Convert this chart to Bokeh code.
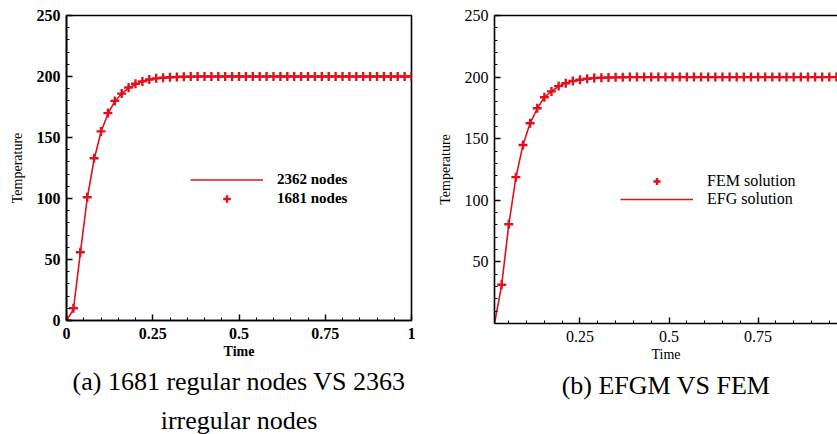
from bokeh.plotting import figure
from bokeh.models import (Legend, LegendItem, FixedTicker, Range1d, Title,
                          LinearAxis)
from bokeh.layouts import row
from bokeh.embed import file_html
from bokeh.resources import INLINE

# ---------------- data ----------------
time_a = [0.00, 0.02, 0.04, 0.06, 0.08, 0.10, 0.12, 0.14, 0.16, 0.18,
          0.20, 0.22, 0.24, 0.26, 0.28, 0.30, 0.32, 0.34, 0.36, 0.38,
          0.40, 0.42, 0.44, 0.46, 0.48, 0.50, 0.52, 0.54, 0.56, 0.58,
          0.60, 0.62, 0.64, 0.66, 0.68, 0.70, 0.72, 0.74, 0.76, 0.78,
          0.80, 0.82, 0.84, 0.86, 0.88, 0.90, 0.92, 0.94, 0.96, 0.98, 1.00]
temp_2362 = [0, 9, 55, 100, 132, 154.5, 169.5, 179.5, 186, 190.5,
             193.5, 195.8, 197.3, 198.3, 198.9, 199.3, 199.6, 199.8, 199.9, 200,
             200, 200, 200, 200, 200, 200, 200, 200, 200, 200,
             200, 200, 200, 200, 200, 200, 200, 200, 200, 200,
             200, 200, 200, 200, 200, 200, 200, 200, 200, 200, 200]
temp_1681 = [0, 10, 56, 101, 133, 155, 170, 180, 186, 191,
             194, 196, 197.5, 198.5, 199, 199.4, 199.6, 199.8, 199.9, 200,
             200, 200, 200, 200, 200, 200, 200, 200, 200, 200,
             200, 200, 200, 200, 200, 200, 200, 200, 200, 200,
             200, 200, 200, 200, 200, 200, 200, 200, 200, 200, 200]

time_efg = [0.01, 0.03, 0.05, 0.07, 0.09, 0.11, 0.13, 0.15, 0.17, 0.19,
            0.21, 0.23, 0.25, 0.27, 0.29, 0.31, 0.33, 0.35, 0.37, 0.39,
            0.41, 0.43, 0.45, 0.47, 0.49, 0.51, 0.53, 0.55, 0.57, 0.59,
            0.61, 0.63, 0.65, 0.67, 0.69, 0.71, 0.73, 0.75, 0.77, 0.79,
            0.81, 0.83, 0.85, 0.87, 0.89, 0.91, 0.93, 0.95, 0.97, 0.99]
temp_efg = [0, 31, 80, 118.5, 145, 162.5, 174.5, 183.5, 188.5, 192.5,
            195, 196.8, 197.8, 198.7, 199.2, 199.5, 199.7, 199.8, 199.9, 200,
            200, 200, 200, 200, 200, 200, 200, 200, 200, 200,
            200, 200, 200, 200, 200, 200, 200, 200, 200, 200,
            200, 200, 200, 200, 200, 200, 200, 200, 200, 200]
time_fem = [0.03, 0.05, 0.07, 0.09, 0.11, 0.13, 0.15, 0.17, 0.19,
            0.21, 0.23, 0.25, 0.27, 0.29, 0.31, 0.33, 0.35, 0.37, 0.39,
            0.41, 0.43, 0.45, 0.47, 0.49, 0.51, 0.53, 0.55, 0.57, 0.59,
            0.61, 0.63, 0.65, 0.67, 0.69, 0.71, 0.73, 0.75, 0.77, 0.79,
            0.81, 0.83, 0.85, 0.87, 0.89, 0.91, 0.93, 0.95, 0.97, 0.99]
temp_fem = [31.5, 80.6, 118.8, 144.9, 162.6, 174.7, 183.6, 188.4, 192.7,
            195, 196.8, 197.8, 198.7, 199.2, 199.5, 199.7, 199.8, 199.9, 200,
            200, 200, 200, 200, 200, 200, 200, 200, 200, 200,
            200, 200, 200, 200, 200, 200, 200, 200, 200, 200,
            200, 200, 200, 200, 200, 200, 200, 200, 200, 200]

x_ticks_a = [0, 0.25, 0.5, 0.75, 1]
x_labels_a = ["0", "0.25", "0.5", "0.75", "1"]
x_ticks_b = [0.25, 0.5, 0.75]
x_labels_b = ["0.25", "0.5", "0.75"]
x_minor = [0.05, 0.10, 0.15, 0.20, 0.30, 0.35, 0.40, 0.45, 0.55, 0.60,
           0.65, 0.70, 0.80, 0.85, 0.90, 0.95]
y_ticks_a = [0, 50, 100, 150, 200, 250]
y_ticks_b = [50, 100, 150, 200, 250]
y_minor = [10, 20, 30, 40, 60, 70, 80, 90, 110, 120, 130, 140, 160, 170,
           180, 190, 210, 220, 230, 240]

caption_a1 = "(a) 1681 regular nodes VS 2363"
caption_a2 = "irregular nodes"
caption_b = "(b) EFGM VS FEM"

RED = "#e0101c"
SERIF = "'Liberation Serif', 'Times New Roman', 'DejaVu Serif', serif"


def style_axes(p, bold):
    style = "bold" if bold else "normal"
    for ax in (p.xaxis[0], p.yaxis[0]):
        ax.axis_line_color = "black"
        ax.axis_line_width = 1.6
        ax.major_tick_in = 6
        ax.major_tick_out = 0
        ax.minor_tick_in = 3
        ax.minor_tick_out = 0
        ax.major_tick_line_color = "black"
        ax.minor_tick_line_color = "black"
        ax.major_tick_line_width = 1.4
        ax.minor_tick_line_width = 1.0
        ax.major_label_text_font = SERIF
        ax.major_label_text_font_size = "16px"
        ax.major_label_text_font_style = style
        ax.major_label_text_color = "black"
        ax.axis_label_text_font = SERIF
        ax.axis_label_text_font_size = "14px"
        ax.axis_label_text_color = "black"
    p.xaxis[0].axis_label_text_font_style = style
    p.yaxis[0].axis_label_text_font_style = "normal"
    p.xaxis[0].major_label_standoff = 7
    p.xaxis[0].axis_label_standoff = 2
    p.yaxis[0].major_label_standoff = 6
    p.yaxis[0].axis_label_standoff = 9
    p.grid.visible = False


def caption(text, standoff):
    return Title(text=text, align="center", text_font=SERIF,
                 text_font_size="26px", text_font_style="normal",
                 text_color="black", standoff=standoff)


# ---------------- panel (a) ----------------
pa = figure(frame_width=345, frame_height=305, min_border_left=66,
            min_border_top=15, min_border_right=21, min_border_bottom=114,
            x_range=Range1d(0, 1), y_range=Range1d(0, 250),
            output_backend="svg", toolbar_location=None,
            x_axis_label="Time", y_axis_label="Temperature")
pa.outline_line_color = "black"
pa.outline_line_width = 1.6
pa.outline_line_alpha = 1
style_axes(pa, True)
pa.xaxis[0].ticker = FixedTicker(ticks=x_ticks_a, minor_ticks=x_minor)
pa.xaxis[0].major_label_overrides = dict(zip(x_ticks_a, x_labels_a))
pa.yaxis[0].ticker = FixedTicker(ticks=y_ticks_a, minor_ticks=y_minor)
pa.yaxis[0].major_label_overrides = {v: str(v) for v in y_ticks_a}

ra_line = pa.line(time_a, temp_2362, line_color=RED, line_width=1.6)
ra_pts = pa.scatter(time_a, temp_1681, marker="cross", size=9,
                    line_color=RED, line_width=2.4)

leg_a = Legend(items=[LegendItem(label="2362 nodes", renderers=[ra_line]),
                      LegendItem(label="1681 nodes", renderers=[ra_pts])],
               location=(124, 112), glyph_width=73, glyph_height=19,
               label_height=19, label_standoff=14, spacing=0, padding=0,
               margin=0, border_line_color=None, background_fill_alpha=0,
               label_text_font=SERIF, label_text_font_size="15px",
               label_text_font_style="bold", label_text_color="black")
pa.add_layout(leg_a)
pa.add_layout(caption(caption_a1, 6), "below")
pa.add_layout(caption(caption_a2, 11), "below")

# ---------------- panel (b) ----------------
pb = figure(frame_width=343, frame_height=308, min_border_left=62,
            min_border_top=15, min_border_right=0, min_border_bottom=111,
            x_range=Range1d(0.01, 0.973), y_range=Range1d(0, 250),
            output_backend="svg", toolbar_location=None,
            x_axis_label="Time", y_axis_label="Temperature")
pb.outline_line_color = None
style_axes(pb, False)
pb.xaxis[0].ticker = FixedTicker(ticks=x_ticks_b, minor_ticks=x_minor)
pb.xaxis[0].major_label_overrides = dict(zip(x_ticks_b, x_labels_b))
pb.yaxis[0].ticker = FixedTicker(ticks=y_ticks_b, minor_ticks=y_minor)
pb.yaxis[0].major_label_overrides = {v: str(v) for v in y_ticks_b}
top_b = LinearAxis(ticker=FixedTicker(ticks=[]), major_tick_in=0,
                   major_tick_out=0, minor_tick_in=0, minor_tick_out=0,
                   major_label_standoff=0, major_label_text_font_size="0px",
                   axis_line_color="black", axis_line_width=1.6)
pb.add_layout(top_b, "above")

rb_line = pb.line(time_efg, temp_efg, line_color=RED, line_width=1.6)
rb_pts = pb.scatter(time_fem, temp_fem, marker="cross", size=9,
                    line_color=RED, line_width=2.4)

leg_b = Legend(items=[LegendItem(label="FEM solution", renderers=[rb_pts]),
                      LegendItem(label="EFG solution", renderers=[rb_line])],
               location=(126, 115), glyph_width=73, glyph_height=18,
               label_height=18, label_standoff=14, spacing=0, padding=0,
               margin=0, border_line_color=None, background_fill_alpha=0,
               label_text_font=SERIF, label_text_font_size="16px",
               label_text_font_style="normal", label_text_color="black")
pb.add_layout(leg_b)
pb.add_layout(caption(caption_b, 8), "below")

layout = row(pa, pb)
open("out.html", "w").write(file_html(layout, INLINE))
